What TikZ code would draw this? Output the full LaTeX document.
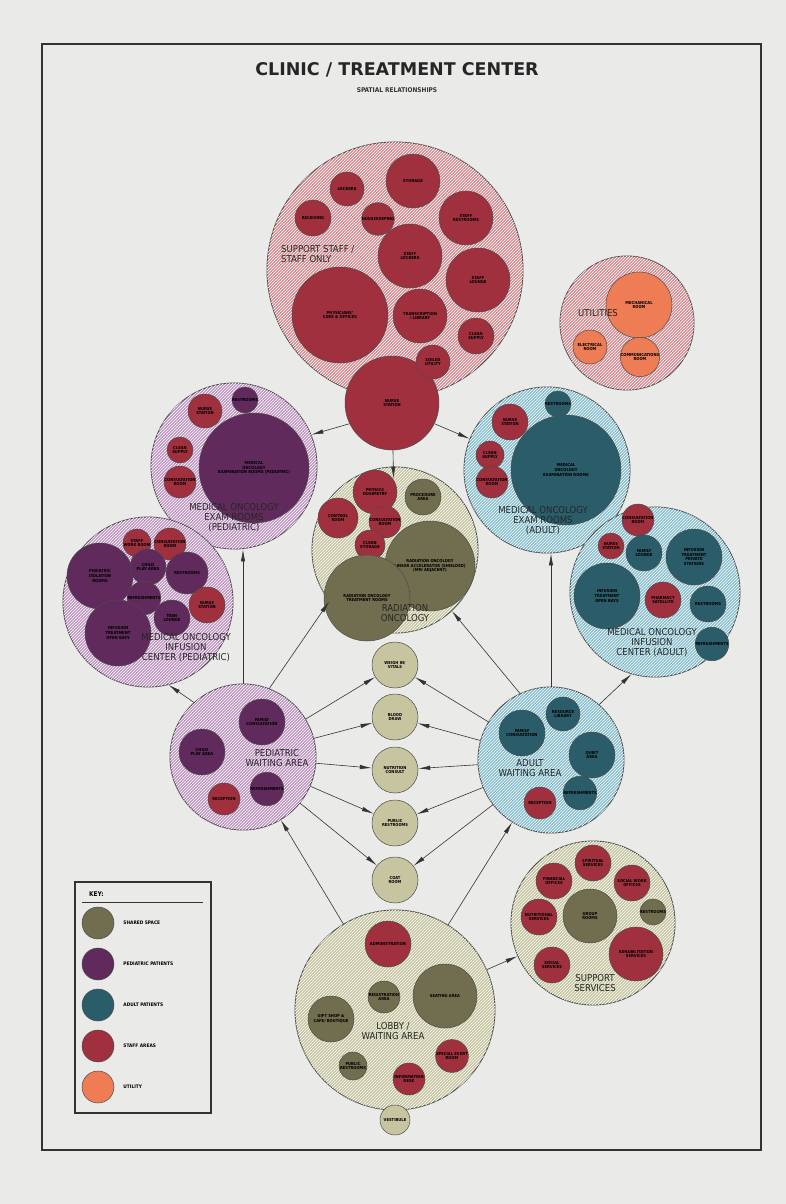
\documentclass[tikz,border=0pt]{standalone}
\usepackage{fontspec}
\setmainfont{DejaVu Sans Condensed}
\newfontfamily\titlefont{DejaVu Sans}
\usetikzlibrary{arrows.meta,positioning,patterns}
\definecolor{paper}{RGB}{234,235,233}
\definecolor{sharedlt}{RGB}{198,197,160}
\definecolor{shareddk}{RGB}{112,110,78}
\definecolor{pedslt}{RGB}{192,150,195}
\definecolor{pedsdk}{RGB}{96,42,92}
\definecolor{adultlt}{RGB}{136,190,207}
\definecolor{adultdk}{RGB}{42,92,106}
\definecolor{stafflt}{RGB}{214,140,146}
\definecolor{staffdk}{RGB}{160,48,62}
\definecolor{utildk}{RGB}{238,124,84}
\newcommand{\roomfont}{\fontsize{4.1}{4.6}\selectfont\bfseries}
\newcommand{\zonefont}{\fontsize{9.5}{10}\selectfont}
\tikzset{
  zone/.style={
    circle,
    draw=black!70,
    line width=0.9pt,
    inner sep=0pt,
    minimum size=#1,
    postaction={pattern=north east lines, pattern color=white, fill opacity=0.18}
  },
  sharedzone/.style={zone=#1, fill=sharedlt},
  pedszone/.style={zone=#1, fill=pedslt},
  adultzone/.style={zone=#1, fill=adultlt},
  staffzone/.style={zone=#1, fill=stafflt},
  room/.style={
    circle,
    draw=black!70,
    line width=0.5pt,
    inner sep=0pt,
    minimum size=#1,
    align=center,
    font=\roomfont
  },
  shared/.style={room=#1, fill=shareddk},
  peds/.style={room=#1, fill=pedsdk},
  adult/.style={room=#1, fill=adultdk},
  staff/.style={room=#1, fill=staffdk},
  util/.style={room=#1, fill=utildk},
  common/.style={room=#1, fill=sharedlt},
  zonelabel/.style={
    font=\zonefont,
    align=center,
    text=black!85,
    inner sep=0pt
  },
  keytext/.style={
    font=\fontsize{4.8}{5}\selectfont\bfseries,
    anchor=west,
    inner sep=0pt
  },
  arrow/.style={
    -{Latex[length=12pt,width=4.4pt]},
    draw=black!80,
    line width=0.6pt
  }
}

\begin{document}
\begin{tikzpicture}[x=1pt, y=-1pt]
  \useasboundingbox (0,0) rectangle (786,1204);
  \fill[paper] (0,0) rectangle (786,1204);
  \draw[black!80, line width=1.3pt] (42,44) rectangle (761,1150);

  \node[font=\titlefont\bfseries\fontsize{17.5}{18}\selectfont, text=black!85] (title) at (397,70) {CLINIC / TREATMENT CENTER};
  \node[font=\bfseries\fontsize{6.5}{7}\selectfont, text=black!80, below=3pt of title] (subtitle) {SPATIAL RELATIONSHIPS};

  % support staff / staff only
  \node[staffzone=256pt] (support) at (395,270) {};
  \node[staff=34pt] (lockers) at (347,189) {LOCKERS};
  \node[staff=54pt] (storage) at (413,181) {STORAGE};
  \node[staff=36pt] (receiving) at (313,218) {RECEIVING};
  \node[staff=22pt] (housekeep) at (378,219) {HOUSEKEEPING};
  \node[staff=54pt] (staffrest) at (466,218) {STAFF\\RESTROOMS};
  \node[staff=64pt] (stafflock) at (410,256) {STAFF\\LOCKERS};
  \node[staff=64pt] (lounge) at (478,280) {STAFF\\LOUNGE};
  \node[staff=96pt] (physicians) at (340,315) {PHYSICIANS'\\CARE \& OFFICES};
  \node[staff=54pt] (library) at (420,316) {TRANSCRIPTION\\/ LIBRARY};
  \node[staff=36pt] (clean) at (476,336) {CLEAN\\SUPPLY};
  \node[staff=94pt] (nurse) at (392,403) {NURSE\\STATION};
  \node[staff=34pt] (soiled) at (433,362) {SOILED\\UTILITY};
  \node[zonelabel, anchor=west, align=left] (stafflbl) at (281,254) {SUPPORT STAFF /\\STAFF ONLY};

  % utilities
  \node[staffzone=134pt] (utilities) at (627,323) {};
  \node[util=66pt] (mech) at (639,305) {MECHANICAL\\ROOM};
  \node[util=34pt] (elec) at (590,347) {ELECTRICAL\\ROOM};
  \node[util=36pt] (comm) at (640,357) {COMMUNICATIONS\\ROOM};
  \node[zonelabel] (utillbl) at (598,313) {UTILITIES};

  % medical oncology exam rooms (pediatric)
  \node[pedszone=166pt] (pedexam) at (234,466) {};
  \node[staff=34pt] (pedexamnurse) at (205,411) {NURSE\\STATION};
  \node[peds=22pt] (pedexamrest) at (245,400) {RESTROOMS};
  \node[staff=26pt] (pedexamclean) at (180,450) {CLEAN\\SUPPLY};
  \node[staff=28pt] (pedexamconsult) at (180,482) {CONSULTATION\\ROOM};
  \node[peds=110pt] (pedexamrooms) at (254,468) {MEDICAL\\ONCOLOGY\\EXAMINATION ROOMS (PEDIATRIC)};
  \node[zonelabel] (pedexamlbl) at (234,518) {MEDICAL ONCOLOGY\\EXAM ROOMS\\(PEDIATRIC)};

  % medical oncology exam rooms (adult)
  \node[adultzone=166pt] (adultexam) at (547,470) {};
  \node[adult=24pt] (adultexamrest) at (558,404) {RESTROOMS};
  \node[staff=36pt] (adultexamnurse) at (510,422) {NURSE\\STATION};
  \node[staff=28pt] (adultexamclean) at (490,455) {CLEAN\\SUPPLY};
  \node[staff=32pt] (adultexamconsult) at (492,482) {CONSULTATION\\ROOM};
  \node[adult=110pt] (adultexamrooms) at (566,470) {MEDICAL\\ONCOLOGY\\EXAMINATION ROOMS};
  \node[zonelabel] (adultexamlbl) at (543,521) {MEDICAL ONCOLOGY\\EXAM ROOMS\\(ADULT)};

  % radiation oncology
  \node[sharedzone=166pt] (radonc) at (395,550) {};
  \node[staff=44pt] (physics) at (375,492) {PHYSICS\\DOSIMETRY};
  \node[shared=36pt] (procedure) at (423,497) {PROCEDURE\\AREA};
  \node[staff=40pt] (radcontrol) at (338,518) {CONTROL\\ROOM};
  \node[staff=30pt] (radconsult) at (385,522) {CONSULTATION\\ROOM};
  \node[staff=30pt] (radstore) at (370,545) {CLEAN\\STORAGE};
  \node[shared=90pt] (linac) at (430,566) {RADIATION ONCOLOGY\\LINEAR ACCELERATOR (SHIELDED)\\(MRI ADJACENT)};
  \node[shared=86pt] (radtreat) at (367,598) {RADIATION ONCOLOGY\\TREATMENT ROOMS};
  \node[zonelabel] (radonclbl) at (405,613) {RADIATION\\ONCOLOGY};

  % medical oncology infusion center (pediatric)
  \node[pedszone=170pt] (infped) at (148,602) {};
  \node[staff=28pt] (infpedwork) at (137,543) {STAFF\\WORK ROOM};
  \node[staff=26pt] (infpedconsult) at (170,544) {CONSULTATION\\ROOM};
  \node[peds=66pt] (infpediso) at (100,576) {PEDIATRIC\\ISOLATION\\ROOMS};
  \node[peds=36pt] (infpedplay) at (148,567) {CHILD\\PLAY AREA};
  \node[peds=42pt] (infpedrest) at (187,573) {RESTROOMS};
  \node[peds=24pt] (infpedrefresh) at (144,598) {REFRESHMENTS};
  \node[staff=36pt] (infpednurse) at (207,605) {NURSE\\STATION};
  \node[peds=36pt] (infpedteen) at (172,618) {TEEN\\LOUNGE};
  \node[peds=66pt] (infpedbays) at (118,633) {INFUSION\\TREATMENT\\OPEN BAYS};
  \node[zonelabel] (infpedlbl) at (186,648) {MEDICAL ONCOLOGY\\INFUSION\\CENTER (PEDIATRIC)};

  % medical oncology infusion center (adult)
  \node[adultzone=170pt] (infadult) at (655,592) {};
  \node[staff=26pt] (infadultconsult) at (638,520) {CONSULTATION\\ROOM};
  \node[staff=26pt] (infadultnurse) at (611,546) {NURSE\\STATION};
  \node[adult=36pt] (infadultfamily) at (644,553) {FAMILY\\LOUNGE};
  \node[adult=56pt] (infadultprivate) at (694,557) {INFUSION\\TREATMENT\\PRIVATE\\STATIONS};
  \node[adult=66pt] (infadultbays) at (607,596) {INFUSION\\TREATMENT\\OPEN BAYS};
  \node[staff=36pt] (infadultpharm) at (663,600) {PHARMACY\\SATELLITE};
  \node[adult=36pt] (infadultrest) at (708,604) {RESTROOMS};
  \node[adult=24pt] (infadultrefresh) at (712,644) {REFRESHMENTS};
  \node[zonelabel] (infadultlbl) at (652,643) {MEDICAL ONCOLOGY\\INFUSION\\CENTER (ADULT)};

  % pediatric waiting area
  \node[pedszone=146pt] (pedwait) at (243,757) {};
  \node[peds=46pt] (pedwaitfamily) at (262,722) {FAMILY\\CONSULTATION};
  \node[peds=46pt] (pedwaitplay) at (202,752) {CHILD\\PLAY AREA};
  \node[peds=32pt] (pedwaitrefresh) at (267,789) {REFRESHMENTS};
  \node[staff=32pt] (pedwaitrecep) at (224,799) {RECEPTION};
  \node[zonelabel] (pedwaitlbl) at (277,758) {PEDIATRIC\\WAITING AREA};

  % shared rooms between the waiting areas
  \node[common=46pt] (weigh) at (395,665) {WEIGH IN/\\VITALS};
  \node[common=46pt] (blood) at (395,717) {BLOOD\\DRAW};
  \node[common=46pt] (nutrition) at (395,770) {NUTRITION\\CONSULT};
  \node[common=46pt] (restrooms) at (395,823) {PUBLIC\\RESTROOMS};
  \node[common=46pt] (coat) at (395,880) {COAT\\ROOM};

  % adult waiting area
  \node[adultzone=146pt] (adultwait) at (551,760) {};
  \node[adult=46pt] (adultwaitlounge) at (522,733) {FAMILY\\CONSULTATION};
  \node[adult=34pt] (adultwaitlib) at (563,714) {RESOURCE\\LIBRARY};
  \node[adult=46pt] (adultwaitquiet) at (592,755) {QUIET\\AREA};
  \node[adult=32pt] (adultwaitrefresh) at (580,793) {REFRESHMENTS};
  \node[staff=32pt] (adultwaitrecep) at (540,803) {RECEPTION};
  \node[zonelabel] (adultwaitlbl) at (530,768) {ADULT\\WAITING AREA};

  % support services
  \node[sharedzone=164pt] (supportsvc) at (593,923) {};
  \node[staff=36pt] (spiritual) at (593,863) {SPIRITUAL\\SERVICES};
  \node[staff=36pt] (financial) at (554,881) {FINANCIAL\\OFFICES};
  \node[staff=36pt] (socialwork) at (632,883) {SOCIAL WORK\\OFFICES};
  \node[shared=54pt] (group) at (590,916) {GROUP\\ROOMS};
  \node[shared=24pt] (svcrest) at (653,912) {RESTROOMS};
  \node[staff=36pt] (nutritionsvc) at (539,917) {NUTRITIONAL\\SERVICES};
  \node[staff=54pt] (rehab) at (636,954) {REHABILITATION\\SERVICES};
  \node[staff=36pt] (counsel) at (552,965) {SOCIAL\\SERVICES};
  \node[zonelabel] (supportsvclbl) at (595,983) {SUPPORT\\SERVICES};

  % lobby / waiting area
  \node[sharedzone=200pt] (lobby) at (395,1010) {};
  \node[staff=46pt] (admin) at (388,944) {ADMINISTRATION};
  \node[shared=32pt] (registration) at (384,997) {REGISTRATION\\AREA};
  \node[shared=64pt] (seating) at (445,996) {SEATING AREA};
  \node[shared=46pt] (gift) at (331,1019) {GIFT SHOP \&\\CAFE/ BOUTIQUE};
  \node[staff=24pt] (special) at (452,1056) {SPECIAL EVENT\\ROOM};
  \node[shared=28pt] (lobbyrest) at (353,1066) {PUBLIC\\RESTROOMS};
  \node[staff=32pt] (info) at (409,1079) {INFORMATION\\DESK};
  \node[zonelabel] (lobbylbl) at (393,1031) {LOBBY /\\WAITING AREA};
  \node[common=30pt] (vestibule) at (395,1120) {VESTIBULE};

  % key
  \draw[black!80, line width=1.2pt] (75,882) rectangle (211,1113);
  \node[font=\bfseries\fontsize{6.5}{7}\selectfont, anchor=west, inner sep=0pt] (keylbl) at (89,894) {KEY:};
  \draw[black!80, line width=0.8pt] (82,902) -- (203,902);
  \node[shared=32pt] (keyshared) at (98,923) {};
  \node[peds=32pt] (keypeds) at (98,964) {};
  \node[adult=32pt] (keyadult) at (98,1005) {};
  \node[staff=32pt] (keystaff) at (98,1046) {};
  \node[util=32pt] (keyutil) at (98,1087) {};
  \node[keytext, right=9pt of keyshared] {SHARED SPACE};
  \node[keytext, right=9pt of keypeds] {PEDIATRIC PATIENTS};
  \node[keytext, right=9pt of keyadult] {ADULT PATIENTS};
  \node[keytext, right=9pt of keystaff] {STAFF AREAS};
  \node[keytext, right=9pt of keyutil] {UTILITY};

  % connections
  \draw[arrow] (nurse.206) -- (pedexam.22);
  \draw[arrow] (nurse.334) -- (adultexam.158);
  \draw[arrow, shorten >=-12pt] (nurse) -- (radonc);
  \draw[arrow] (pedwait.north) -- (pedwait.north |- pedexam.south);
  \draw[arrow] (pedwait.132) -- (infped.284);
  \draw[arrow] (pedwait.69) -- (radonc.218);
  \draw[arrow] (adultwait.north) -- (adultwait.north |- adultexam.south);
  \draw[arrow] (adultwait.115) -- (radonc.313);
  \draw[arrow] (adultwait.49) -- (infadult.254);
  \foreach \r in {weigh,blood,nutrition,restrooms,coat} {
    \draw[arrow] (pedwait) -- (\r);
    \draw[arrow] (adultwait) -- (\r);
  }
  \draw[arrow] (lobby) -- (pedwait);
  \draw[arrow] (lobby) -- (adultwait);
  \draw[arrow] (lobby) -- (supportsvc);
\end{tikzpicture}
\end{document}
